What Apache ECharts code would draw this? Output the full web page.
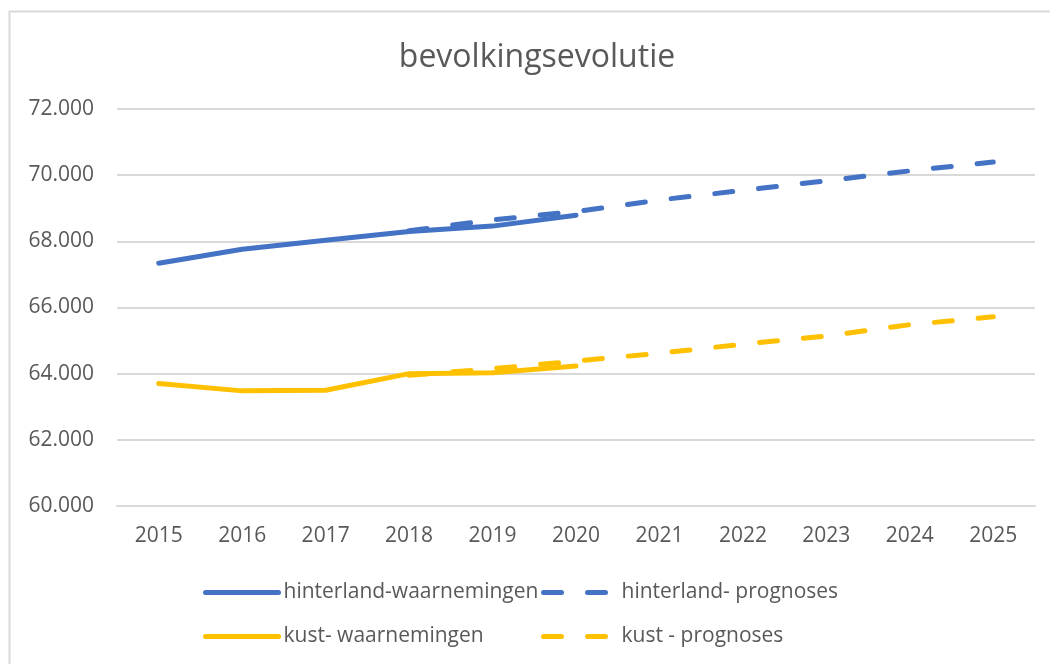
<!DOCTYPE html>
<html>
<head>
<meta charset="utf-8">
<script src="https://cdn.jsdelivr.net/npm/echarts@6/dist/echarts.min.js"></script>
<style>
  html, body { margin: 0; padding: 0; background: #fff; }
  #chart { width: 1050px; height: 664px; }
</style>
</head>
<body>
<div id="chart"></div>
<script>
  var jaren = ['2015','2016','2017','2018','2019','2020','2021','2022','2023','2024','2025'];
  // waarnemingen (2015-2020)
  var hinterlandWaar = [67340, 67760, 68030, 68300, 68460, 68790];
  var kustWaar = [63700, 63480, 63500, 64000, 64030, 64230];
  // prognoses (2018-2025)
  var hinterlandProg = [null, null, null, 68320, 68650, 68900, 69250, 69540, 69830, 70130, 70400];
  var kustProg = [null, null, null, 63950, 64150, 64380, 64620, 64890, 65140, 65480, 65720];

  var blauw = '#4472C4', geel = '#FFC000', grijs = '#595959';
  var lettertype = '"Open Sans", sans-serif';

  var myChart = echarts.init(document.getElementById('chart'));

  function lijn(naam, data, kleur, gestreept) {
    return {
      name: naam,
      type: 'line',
      data: data,
      symbol: 'none',
      connectNulls: false,
      lineStyle: {
        color: kleur,
        width: 5,
        cap: 'round',
        join: 'round',
        type: gestreept ? [18, 26] : 'solid'
      },
      itemStyle: { color: kleur },
      z: gestreept ? 3 : 2
    };
  }

  function legende(naam, left, top) {
    return {
      data: [naam],
      left: left,
      top: top,
      itemWidth: 73,
      itemHeight: 14,
      selectedMode: false,
      itemStyle: { opacity: 0 },
      lineStyle: { width: 5, cap: 'round' },
      textStyle: { color: grijs, fontSize: 21, fontFamily: lettertype }
    };
  }

  option = {
    animation: false,
    backgroundColor: '#fff',
    title: {
      text: 'bevolkingsevolutie',
      left: 532,
      textAlign: 'center',
      top: 37,
      textStyle: { color: grijs, fontSize: 32, fontWeight: 'normal', fontFamily: lettertype }
    },
    graphic: [{
      type: 'rect',
      shape: { x: 9.5, y: 11.5, width: 1100, height: 700 },
      style: { fill: 'none', stroke: '#d9d9d9', lineWidth: 2 },
      silent: true
    }],
    legend: [
      legende('hinterland-waarnemingen', 198, 577),
      legende('hinterland- prognoses', 536, 577),
      legende('kust- waarnemingen', 198, 621),
      legende('kust - prognoses', 536, 621)
    ],
    grid: { left: 117, right: 15, top: 109, bottom: 158 },
    xAxis: {
      type: 'category',
      data: jaren,
      boundaryGap: true,
      axisLine: { show: true, lineStyle: { color: '#d9d9d9', width: 2 } },
      axisTick: { show: false },
      axisLabel: { color: grijs, fontSize: 21, fontFamily: lettertype, margin: 20 }
    },
    yAxis: {
      type: 'value',
      min: 60000,
      max: 72000,
      interval: 2000,
      axisLine: { show: false },
      axisTick: { show: false },
      splitLine: { lineStyle: { color: '#d9d9d9', width: 2 } },
      axisLabel: {
        color: grijs, fontSize: 21, fontFamily: lettertype, margin: 23,
        formatter: function (v) { return (v / 1000).toFixed(3); }
      }
    },
    series: [
      lijn('hinterland-waarnemingen', hinterlandWaar, blauw, false),
      lijn('hinterland- prognoses', hinterlandProg, blauw, true),
      lijn('kust- waarnemingen', kustWaar, geel, false),
      lijn('kust - prognoses', kustProg, geel, true)
    ]
  };
  myChart.setOption(option);
</script>
</body>
</html>
